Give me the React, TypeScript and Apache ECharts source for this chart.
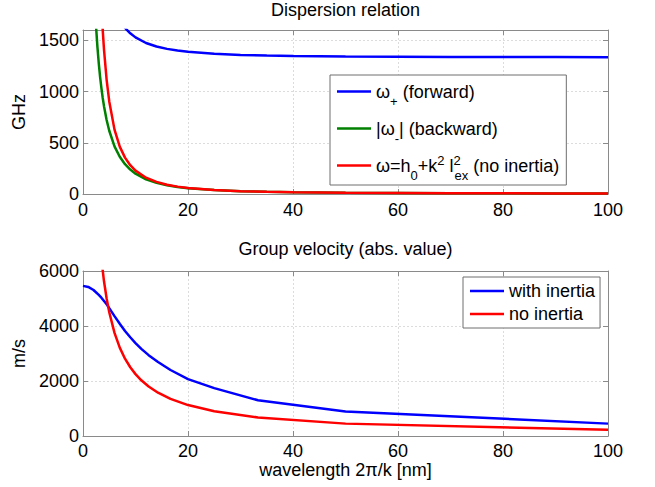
import React, { useEffect, useRef } from 'react';
import * as echarts from 'echarts';

// ---- Top panel: dispersion relation ----
const dispWavelength = [2, 2.25, 2.5, 2.75, 3, 3.25, 3.5, 3.75, 4, 4.5, 5, 6, 7, 8, 9, 10, 12, 14, 16, 18, 20, 25, 30, 35, 40, 50, 60, 70, 80, 90, 100];
const forwardGHz = [3481, 3186, 2953, 2763, 2607, 2476, 2365, 2269, 2187, 2052, 1947, 1795, 1693, 1621, 1568, 1528, 1473, 1439, 1416, 1399, 1387, 1368, 1357, 1351, 1347, 1342, 1339, 1337, 1336, 1336, 1335];
const backwardGHz = [2151, 1856, 1623, 1433, 1277, 1146, 1035, 939, 857, 722, 617, 465, 363, 291, 238, 198, 143, 109, 86, 69, 57, 38, 27.5, 21, 17, 12, 9.2, 7.5, 6.5, 5.8, 5.2];
const noInertiaGHz = [5628, 4447, 3603, 2978, 2503, 2133, 1840, 1603, 1409, 1114, 903, 628, 462, 355, 281, 228, 159, 118, 91, 72, 59, 39, 28, 21, 17, 12, 9.3, 7.6, 6.5, 5.8, 5.3];

// ---- Bottom panel: group velocity ----
const velWavelength = [0, 1, 2, 3, 3.5, 4, 4.5, 5, 6, 7, 8, 9, 10, 11.11, 12.5, 14.29, 16.67, 20, 25, 33.33, 50, 100];
const withInertiaMs = [5460, 5420, 5310, 5130, 5030, 4910, 4790, 4650, 4360, 4080, 3820, 3590, 3380, 3170, 2940, 2690, 2400, 2070, 1740, 1300, 890, 450];
const noInertiaMs = [null, 22500, 11250, 7500, 6430, 5625, 5000, 4500, 3750, 3214, 2812, 2500, 2250, 2025, 1800, 1575, 1350, 1125, 900, 675, 450, 225];

const xTicks = [0, 20, 40, 60, 80, 100];
const ghzTicks = [0, 500, 1000, 1500];
const msTicks = [0, 2000, 4000, 6000];

const FONT = "'Liberation Sans', Arial, Helvetica, sans-serif";
const AXIS_GRAY = '#8a8a8a';
const LINE_W = 2.5;

const pairs = (xs: number[], ys: (number | null)[]) => xs.map((x, i) => [x, ys[i] === null ? '-' : ys[i]]);

export default function App() {
  const ref = useRef<HTMLDivElement>(null);
  useEffect(() => {
    if (!ref.current) return;
    const chart = echarts.init(ref.current, undefined, { renderer: 'svg' });

    const baseX = (gridIndex: number, position: 'bottom' | 'top', labels: boolean, margin: number) => ({
      type: 'value',
      gridIndex,
      position,
      min: xTicks[0],
      max: xTicks[xTicks.length - 1],
      interval: xTicks[1] - xTicks[0],
      axisLine: { show: true, onZero: false, lineStyle: { color: AXIS_GRAY, width: 1 } },
      axisTick: { show: true, inside: true, length: 5, lineStyle: { color: AXIS_GRAY } },
      axisLabel: { show: labels, color: '#000', fontSize: 18, fontFamily: FONT, margin },
      splitLine: { show: labels, lineStyle: { color: '#dcdcdc', type: [2, 2], width: 1 } },
    });
    const baseY = (gridIndex: number, position: 'left' | 'right', labels: boolean, max: number, interval: number) => ({
      type: 'value',
      gridIndex,
      position,
      min: 0,
      max,
      interval,
      axisLine: { show: true, onZero: false, lineStyle: { color: AXIS_GRAY, width: 1 } },
      axisTick: { show: true, inside: true, length: 5, lineStyle: { color: AXIS_GRAY } },
      axisLabel: {
        show: labels, color: '#000', fontSize: 18, fontFamily: FONT, margin: 4,
        formatter: (v: number) => (v > max - 1e-9 && max % interval !== 0 ? '' : String(v)),
      },
      splitLine: { show: labels, lineStyle: { color: '#dcdcdc', type: [2, 2], width: 1 } },
    });

    const richMain = { fontSize: 18, lineHeight: 22, fontFamily: FONT, color: '#000' };
    const richSub = { fontSize: 13, lineHeight: 22, fontFamily: FONT, color: '#000', padding: [20, 0, 0, 0] };
    const richSup = { fontSize: 13, lineHeight: 22, fontFamily: FONT, color: '#000', padding: [0, 0, 10, 0] };
    const richSupStack = { fontSize: 13, lineHeight: 22, fontFamily: FONT, color: '#000', padding: [0, 0, 10, 0], width: 1 };

    const topNames: Record<string, string> = {
      forward: '{m|ω}{sb|+}{m| (forward)}',
      backward: '{m|\u007Cω}{sb|-}{m|\u007C (backward)}',
      plain: '{m|ω=h}{sb|0}{m|+k}{sp|2}{m| l}{st|2}{sb|ex}{m| (no inertia)}',
    };

    const option: any = {
      animation: false,
      backgroundColor: '#fff',
      textStyle: { fontFamily: FONT },
      grid: [
        { left: 83, top: 30, width: 525, height: 164 },
        { left: 83, top: 271, width: 525, height: 165 },
      ],
      xAxis: [
        { ...baseX(0, 'bottom', true, 7) },
        {
          ...baseX(1, 'bottom', true, 6),
          name: 'wavelength 2π/k [nm]',
          nameLocation: 'middle',
          nameGap: 25,
          nameTextStyle: { color: '#000', fontSize: 18, fontFamily: FONT, verticalAlign: 'top' },
        },
        { ...baseX(0, 'top', false, 7) },
        { ...baseX(1, 'top', false, 7) },
      ],
      yAxis: [
        {
          ...baseY(0, 'left', true, 1600, ghzTicks[1] - ghzTicks[0]),
          name: 'GHz', nameLocation: 'middle', nameGap: 47, nameRotate: 90,
          nameTextStyle: { color: '#000', fontSize: 18, fontFamily: FONT },
        },
        {
          ...baseY(1, 'left', true, msTicks[msTicks.length - 1], msTicks[1] - msTicks[0]),
          name: 'm/s', nameLocation: 'middle', nameGap: 47, nameRotate: 90,
          nameTextStyle: { color: '#000', fontSize: 18, fontFamily: FONT },
        },
        { ...baseY(0, 'right', false, 1600, ghzTicks[1] - ghzTicks[0]) },
        { ...baseY(1, 'right', false, msTicks[msTicks.length - 1], msTicks[1] - msTicks[0]) },
      ],
      legend: [
        {
          data: ['forward', 'backward', 'plain'],
          orient: 'vertical',
          left: 330,
          top: 75,
          padding: [0, 7, 3, 7],
          icon: 'rect',
          itemWidth: 34,
          itemHeight: 2.4,
          itemGap: 4,
          backgroundColor: '#fff',
          borderColor: '#6e6e6e',
          borderWidth: 1,
          borderRadius: 0,
          formatter: (n: string) => topNames[n],
          textStyle: { fontSize: 18, lineHeight: 22, fontFamily: FONT, color: '#000', rich: { m: richMain, sb: richSub, sp: richSup, st: richSupStack } },
        },
        {
          data: ['with inertia', 'no inertia'],
          orient: 'vertical',
          left: 463,
          top: 277,
          padding: [4, 5, 4, 7],
          icon: 'rect',
          itemWidth: 34,
          itemHeight: 2.4,
          itemGap: 3,
          backgroundColor: '#fff',
          borderColor: '#6e6e6e',
          borderWidth: 1,
          borderRadius: 0,
          textStyle: { fontSize: 18, lineHeight: 20, fontFamily: FONT, color: '#000' },
        },
      ],
      graphic: [
        { type: 'text', x: 345.5, y: 1, style: { text: 'Dispersion relation', align: 'center', verticalAlign: 'top', fontSize: 18, fontFamily: FONT, fill: '#000' } },
        { type: 'text', x: 345.5, y: 240, style: { text: 'Group velocity (abs. value)', align: 'center', verticalAlign: 'top', fontSize: 18, fontFamily: FONT, fill: '#000' } },
      ],
      series: [
        { name: 'forward', type: 'line', xAxisIndex: 0, yAxisIndex: 0, data: pairs(dispWavelength, forwardGHz), symbol: 'none', clip: true, color: '#0000ff', lineStyle: { width: LINE_W, color: '#0000ff' } },
        { name: 'backward', type: 'line', xAxisIndex: 0, yAxisIndex: 0, data: pairs(dispWavelength, backwardGHz), symbol: 'none', clip: true, color: '#008000', lineStyle: { width: LINE_W, color: '#008000' } },
        { name: 'plain', type: 'line', xAxisIndex: 0, yAxisIndex: 0, data: pairs(dispWavelength, noInertiaGHz), symbol: 'none', clip: true, color: '#ff0000', lineStyle: { width: LINE_W, color: '#ff0000' } },
        { name: 'with inertia', type: 'line', xAxisIndex: 1, yAxisIndex: 1, data: pairs(velWavelength, withInertiaMs), symbol: 'none', clip: true, color: '#0000ff', lineStyle: { width: LINE_W, color: '#0000ff' } },
        { name: 'no inertia', type: 'line', xAxisIndex: 1, yAxisIndex: 1, data: pairs(velWavelength, noInertiaMs), symbol: 'none', clip: true, color: '#ff0000', lineStyle: { width: LINE_W, color: '#ff0000' } },
      ],
    };
    chart.setOption(option);
    return () => chart.dispose();
  }, []);

  return (
    <div
      ref={ref}
      style={{ position: 'absolute', left: 0, top: 0, width: 655, height: 487, background: '#fff' }}
    />
  );
}
